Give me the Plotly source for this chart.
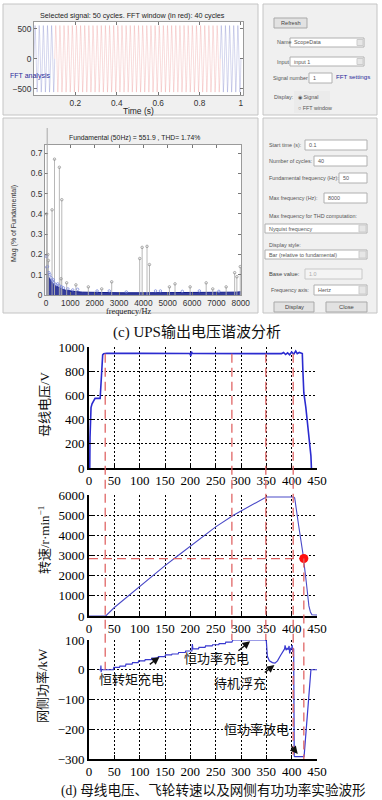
import plotly.graph_objects as go

W, H = 382, 800

# ---------------- DATA ----------------
# (c) upper GUI: selected UPS output voltage signal
sig_cycles = 50
sig_one_cycle = [0, 390, 552, 390, 0, -390, -552, -390]   # one period (V), peak ~552
sig_duration = 1.0
fft_window = [0.1, 0.9]                                   # red part of the signal (s)
sig_x_ticks = [0.2, 0.4, 0.6, 0.8, 1.0]
sig_x_labels = ["0.2", "0.4", "0.6", "0.8", "1"]
sig_y_ticks = [-500, 0, 500]

# (c) FFT spectrum (% of fundamental)
fund_freq = 50
harm_freq = [25, 75, 100, 250, 350, 550, 620, 650, 850, 1230, 1740, 2290, 2700,
             3850, 3950, 4150, 4250, 5070, 5300, 5920, 6580, 6850, 7400, 7750, 7840, 7980]
harm_mag = [0.40, 0.20, 0.17, 0.42, 0.67, 0.63, 0.08, 0.47, 0.06, 0.05, 0.04, 0.03, 0.065,
            0.18, 0.235, 0.24, 0.15, 0.04, 0.055, 0.04, 0.06, 0.03, 0.04, 0.11, 0.09, 0.14]
floor_freq = [0, 50, 100, 150, 200, 300, 400, 500, 600, 700, 800, 1000, 1200, 1500,
              2000, 3000, 4000, 5000, 6000, 7000, 7800, 8000]
floor_mag = [0.14, 0.11, 0.09, 0.08, 0.07, 0.055, 0.045, 0.038, 0.032, 0.028, 0.024, 0.02,
             0.017, 0.014, 0.012, 0.011, 0.011, 0.011, 0.011, 0.011, 0.014, 0.016]
dot_freq = [20, 60, 120, 160, 210, 260, 300, 330, 420, 480, 560, 640, 720, 900, 1100,
            1300, 2100, 2600, 3300, 4500, 4700, 5600, 6300, 7100]
dot_mag = [0.19, 0.14, 0.11, 0.10, 0.085, 0.07, 0.075, 0.06, 0.05, 0.055, 0.045, 0.04,
           0.035, 0.03, 0.025, 0.028, 0.02, 0.02, 0.015, 0.02, 0.02, 0.018, 0.02, 0.018]
fft_y_ticks = [0, 0.1, 0.2, 0.3, 0.4, 0.5, 0.6, 0.7]
fft_x_ticks = [0, 1000, 2000, 3000, 4000, 5000, 6000, 7000, 8000]

# (d) bus voltage (V)
bus_t = [0, 1.5, 2, 3, 4, 6, 9, 12, 22, 23, 25, 27, 29, 35, 100, 199, 201, 202, 204, 206,
         300, 380, 384, 388, 392, 396, 400, 404, 408, 411, 415, 420, 421, 422, 424, 428,
         432, 436, 438, 439]
bus_v = [0, 0, 250, 460, 500, 530, 560, 575, 575, 640, 860, 935, 945, 948, 947, 946, 925,
         962, 946, 946, 946, 945, 955, 938, 952, 936, 958, 940, 966, 945, 955, 946, 946,
         820, 620, 500, 360, 200, 100, 0]

# (d) flywheel speed (r/min)
spd_t = [0, 33, 50, 78, 100, 124, 150, 176, 200, 226, 250, 285, 300, 320, 340, 350,
         404, 406, 414, 422, 429, 434, 437, 440, 450]
spd_v = [0, 0, 420, 1000, 1480, 2000, 2500, 3000, 3460, 4000, 4420, 5000, 5200, 5480,
         5760, 5900, 5900, 5850, 4450, 3130, 1650, 500, 200, 60, 50]

# (d) grid-side active power (kW)
pw_t = [20, 23, 23.5, 24, 24.5, 48, 49, 60, 61, 72, 73, 85, 86, 97, 98, 110, 111, 123, 124,
        136, 137, 150, 151, 163, 164, 176, 177, 190, 191, 203, 204, 205, 206, 216, 217, 229,
        230, 243, 244, 256, 257, 269, 270, 282, 284, 348, 350, 352, 356, 362, 367, 372, 378,
        384, 386, 387, 389, 391, 393, 395, 396, 398, 400, 401, 402, 403, 404, 405, 406,
        423, 424.5, 438, 450]
pw_v = [0, 0, 14, -8, 0, 0, 8, 8, 12, 12, 19, 19, 24, 24, 30, 30, 34, 34, 39, 39, 44, 44,
        50, 50, 53, 53, 58, 58, 63, 63, 86, 70, 70, 70, 75, 75, 80, 80, 84, 84, 88, 88, 93,
        93, 100, 100, 97, 45, 30, 24, 22, 30, 48, 66, 70, 82, 66, 72, 68, 80, 55, 72, 70, 83,
        60, 72, 70, -290, -292, -292, -292, 0, 0]

# event markers (red dashed lines)
event_t = [32, 282, 349, 403, 424]
event_top = [("bus", 945), ("bus", 945), ("bus", 945), ("bus", 945), ("spd", 2850)]
event_bottom = [("pw", 0), ("pw", 100), ("pw", 100), ("pw", -300), ("pw", -300)]
marker_speed = 2850
marker_t = 424

# ---------------- LAYOUT HELPERS ----------------
def px(x):
    return x / W

def py(y):
    return 1 - y / H

dom_sig_x = [px(34), px(243)]
dom_sig_y = [py(95), py(22)]
dom_fft_x = [px(45), px(241)]
dom_fft_y = [py(295), py(145)]
dom_d_x = [px(89), px(317)]
dom_bus_y = [py(468), py(347)]
dom_spd_y = [py(616), py(495)]
dom_pw_y = [py(759), py(640)]
rng_bus = [0, 1000]
rng_spd = [0, 6000]
rng_pw = [-300, 100]
rng_t = [0, 450]
panels = {"bus": (dom_bus_y, rng_bus), "spd": (dom_spd_y, rng_spd), "pw": (dom_pw_y, rng_pw)}

def to_paper_y(panel, v):
    dom, rng = panels[panel]
    return dom[0] + (v - rng[0]) / (rng[1] - rng[0]) * (dom[1] - dom[0])

fig = go.Figure()

# ---------- signal trace ----------
n = len(sig_one_cycle) * sig_cycles
sig_t = [i * sig_duration / n for i in range(n + 1)]
sig_v = sig_one_cycle * sig_cycles + [sig_one_cycle[0]]

def seg(lo, hi):
    xs, ys = [], []
    for t, v in zip(sig_t, sig_v):
        if lo - 1e-9 <= t <= hi + 1e-9:
            xs.append(t); ys.append(v)
    return xs, ys

for lo, hi, col in [(0, fft_window[0], "rgba(70,80,180,0.42)"),
                    (fft_window[0], fft_window[1], "rgba(225,80,80,0.36)"),
                    (fft_window[1], sig_duration, "rgba(70,80,180,0.42)")]:
    xs, ys = seg(lo, hi)
    fig.add_trace(go.Scatter(x=xs, y=ys, mode="lines", line=dict(color=col, width=0.55),
                             xaxis="x", yaxis="y", hoverinfo="skip", showlegend=False))

# ---------- FFT ----------
fig.add_trace(go.Scatter(x=floor_freq, y=floor_mag, mode="lines", fill="tozeroy",
                         line=dict(color="#101a8a", width=1), fillcolor="rgba(16,26,138,0.85)",
                         xaxis="x2", yaxis="y2", showlegend=False, hoverinfo="skip"))
sx, sy = [], []
for f, m in zip(harm_freq, harm_mag):
    sx += [f, f, None]; sy += [0, m, None]
fig.add_trace(go.Scatter(x=sx, y=sy, mode="lines", line=dict(color="#b0b0b0", width=0.9),
                         xaxis="x2", yaxis="y2", showlegend=False, hoverinfo="skip"))
fig.add_trace(go.Scatter(x=harm_freq, y=harm_mag, mode="markers",
                         marker=dict(symbol="circle-open", size=2.5, color="#8a8a8a",
                                     line=dict(width=0.7)),
                         xaxis="x2", yaxis="y2", showlegend=False, hoverinfo="skip"))
fig.add_trace(go.Scatter(x=dot_freq, y=dot_mag, mode="markers",
                         marker=dict(symbol="circle-open", size=2.5, color="#7080d8",
                                     line=dict(width=0.7)),
                         xaxis="x2", yaxis="y2", showlegend=False, hoverinfo="skip"))

# ---------- (d) curves ----------
fig.add_trace(go.Scatter(x=bus_t, y=bus_v, mode="lines", line=dict(color="#2b2bd0", width=1.6),
                         xaxis="x3", yaxis="y3", showlegend=False, hoverinfo="skip"))
fig.add_trace(go.Scatter(x=spd_t, y=spd_v, mode="lines", line=dict(color="#4a4ac8", width=1.1),
                         xaxis="x4", yaxis="y4", showlegend=False, hoverinfo="skip"))
fig.add_trace(go.Scatter(x=[0, marker_t], y=[marker_speed, marker_speed], mode="lines",
                         line=dict(color="#e06666", width=1.3, dash="9px,5px"),
                         xaxis="x4", yaxis="y4", showlegend=False, hoverinfo="skip"))
fig.add_trace(go.Scatter(x=[marker_t], y=[marker_speed], mode="markers",
                         marker=dict(color="#ff1010", size=9), cliponaxis=False,
                         xaxis="x4", yaxis="y4", showlegend=False, hoverinfo="skip"))
fig.add_trace(go.Scatter(x=pw_t, y=pw_v, mode="lines", line=dict(color="#3a3ad0", width=1.2),
                         xaxis="x5", yaxis="y5", showlegend=False, hoverinfo="skip"))

# ---------------- AXES ----------------
gui_font = dict(family="Liberation Sans, Arial", size=8.3, color="#333")
gui_ax = dict(showline=True, linecolor="#9a9a9a", linewidth=1, mirror="ticks", ticks="inside",
              ticklen=3, tickcolor="#777", tickfont=gui_font, showgrid=False, zeroline=False,
              fixedrange=True)
serif = "Liberation Serif, Times New Roman, Noto Sans CJK SC"
d_ax = dict(showline=True, linecolor="#000000", linewidth=1.6, ticks="inside", ticklen=4,
            tickcolor="#000000", showgrid=True, gridcolor="#000000", griddash="1.5px,2.5px",
            gridwidth=1, zeroline=False,
            tickfont=dict(family=serif, size=13, color="#000000"), fixedrange=True)

fig.update_layout(
    template="none",
    xaxis=dict(gui_ax, domain=dom_sig_x, range=[0, 1.01], tickvals=sig_x_ticks,
               ticktext=sig_x_labels, anchor="y"),
    yaxis=dict(gui_ax, domain=dom_sig_y, range=[-600, 610], tickvals=sig_y_ticks, anchor="x"),
    xaxis2=dict(gui_ax, domain=dom_fft_x, range=[-40, 8010], tickvals=fft_x_ticks, anchor="y2"),
    yaxis2=dict(gui_ax, domain=dom_fft_y, range=[0, 0.74], tickvals=fft_y_ticks, anchor="x2"),
    xaxis3=dict(d_ax, domain=dom_d_x, range=rng_t, dtick=50, tick0=0, anchor="y3"),
    yaxis3=dict(d_ax, domain=dom_bus_y, range=rng_bus, dtick=200, tick0=0, anchor="x3"),
    xaxis4=dict(d_ax, domain=dom_d_x, range=rng_t, dtick=50, tick0=0, anchor="y4"),
    yaxis4=dict(d_ax, domain=dom_spd_y, range=rng_spd, dtick=1000, tick0=0, anchor="x4"),
    xaxis5=dict(d_ax, domain=dom_d_x, range=rng_t, dtick=50, tick0=0, anchor="y5"),
    yaxis5=dict(d_ax, domain=dom_pw_y, range=rng_pw, dtick=100, tick0=0, anchor="x5"),
)

# ---------------- SHAPES (GUI) ----------------
shapes = []

def rect(x0, y0, x1, y1, fill, line="#b5b5b5", lw=1, layer="below"):
    shapes.append(dict(type="rect", xref="paper", yref="paper", x0=px(x0), x1=px(x1),
                       y0=py(y1), y1=py(y0), fillcolor=fill, line=dict(color=line, width=lw),
                       layer=layer))

# panels
rect(3, 4, 258, 115, "#f0f0f0", "#c4c4c4")
rect(263, 4, 377, 115, "#f0f0f0", "#c4c4c4")
rect(3, 118, 258, 313, "#f0f0f0", "#c4c4c4")
rect(263, 118, 377, 313, "#f0f0f0", "#c4c4c4")
# white axes areas
rect(34, 22, 243, 95, "white", "rgba(0,0,0,0)")
rect(45, 145, 241, 295, "white", "rgba(0,0,0,0)")

# top-right widgets
rect(274, 18, 307, 28, "#e2e2e2", "#a9a9a9")
rect(290, 38, 364, 47, "white", "#b0b0b0")
rect(357, 39.5, 363, 45.5, "#e6e6e6", "#cccccc")
rect(290, 57, 364, 66, "white", "#b0b0b0")
rect(357, 58.5, 363, 64.5, "#e6e6e6", "#cccccc")
rect(309, 73, 332, 83, "white", "#b0b0b0")
rect(294, 91, 330, 113, "#ebebeb", "rgba(0,0,0,0)")

# bottom-right widgets
rect(305, 140, 367, 150, "white", "#b0b0b0")
rect(314, 156, 367, 166, "white", "#b0b0b0")
rect(339, 173, 367, 183, "white", "#b0b0b0")
rect(324, 193, 367, 203, "white", "#b0b0b0")
rect(265, 224, 367, 233, "white", "#b0b0b0")
rect(359, 225, 366, 232, "#e6e6e6", "#cccccc")
rect(265, 250, 367, 259, "white", "#b0b0b0")
rect(359, 251, 366, 258, "#e6e6e6", "#cccccc")
rect(305, 269, 362, 279, "#f4f4f4", "#c8c8c8")
rect(314, 285, 367, 295, "white", "#b0b0b0")
rect(359, 286, 366, 294, "#e6e6e6", "#cccccc")
rect(274, 302, 314, 312, "#e2e2e2", "#a9a9a9")
rect(326, 302, 367, 312, "#e2e2e2", "#a9a9a9")

# fundamental bar (runs beyond the top of the FFT axes)
shapes.append(dict(type="line", xref="x2", yref="paper", x0=fund_freq, x1=fund_freq,
                   y0=dom_fft_y[0], y1=py(128), line=dict(color="#a8a8a8", width=1), layer="above"))

# red dashed event lines spanning the three (d) panels
for t, (p0, v0), (p1, v1) in zip(event_t, event_top, event_bottom):
    shapes.append(dict(type="line", xref="x3", yref="paper", x0=t, x1=t,
                       y0=to_paper_y(p0, v0), y1=to_paper_y(p1, v1),
                       line=dict(color="#e06666", width=1.3, dash="9px,5px"), layer="above"))

fig.update_layout(shapes=shapes)

# ---------------- ANNOTATIONS ----------------
ann = []

def txt(x, y, s, size=5.4, color="#555", anchor="left", family="Liberation Sans, Arial",
        angle=0):
    ann.append(dict(xref="paper", yref="paper", x=px(x), y=py(y), text=s, showarrow=False,
                    xanchor=anchor, yanchor="middle", textangle=angle,
                    font=dict(family=family, size=size, color=color)))

txt(132, 15, "Selected signal: 50 cycles. FFT window (in red): 40 cycles", 7.2, "#222", "center")
txt(138, 111, "Time (s)", 8.5, "#222", "center")
txt(8, 76, "FFT analysis", 7, "#2a2a9a")
txt(134, 138, "Fundamental (50Hz) = 551.9 , THD= 1.74%", 6.8, "#222", "center")
txt(128, 311.5, "frequency/Hz", 8.3, "#222", "center", serif)
txt(14, 224, "Mag (% of Fundamental)", 7, "#333", "center", angle=-90)

# top-right GUI
txt(290.5, 23, "Refresh", 5.6, "#444", "center")
txt(275, 42.5, "Name")
txt(292, 42.5, "ScopeData")
txt(275, 61.5, "Input")
txt(292, 61.5, "input 1")
txt(271, 78, "Signal number")
txt(311, 78, "1")
txt(334, 77, "FFT settings", 6.2, "#2a2a9a")
txt(272, 97, "Display:")
txt(296, 97, "◉ Signal")
txt(296, 108, "○ FFT window")

# bottom-right GUI
txt(267, 145, "Start time (s):")
txt(307, 145, "0.1")
txt(267, 161, "Number of cycles:")
txt(316, 161, "40")
txt(267, 178, "Fundamental frequency (Hz):")
txt(341, 178, "50")
txt(267, 198, "Max frequency (Hz):")
txt(326, 198, "8000")
txt(267, 216, "Max frequency for THD computation:")
txt(267, 228.5, "Nyquist frequency")
txt(267, 245, "Display style:")
txt(267, 254.5, "Bar (relative to fundamental)")
txt(267, 274, "Base value:", 5.8, "#444")
txt(307, 274, "1.0", 5.4, "#aaa")
txt(269, 290, "Frequency axis:")
txt(316, 290, "Hertz")
txt(294, 307, "Display", 5.8, "#444", "center")
txt(346.5, 307, "Close", 5.8, "#444", "center")

# captions
txt(197, 332, "(c) UPS输出电压谐波分析", 15, "#111", "center", serif)
txt(213, 790, "(d) 母线电压、飞轮转速以及网侧有功功率实验波形", 13.6, "#111", "center", serif)

# (d) y titles
txt(44, 404, "母线电压/V", 13, "#111", "center", serif, -90)
txt(44, 540, "转速/r·min<sup>−1</sup>", 13, "#111", "center", serif, -90)
txt(42, 686, "网侧功率/kW", 13, "#111", "center", serif, -90)

# (d) power annotations
def note(x, y, s):
    ann.append(dict(xref="x5", yref="y5", x=x, y=y, text=s, showarrow=False,
                    font=dict(family=serif, size=13, color="#111"), xanchor="center",
                    yanchor="middle"))

def arrow(x, y, ax, ay):
    ann.append(dict(xref="x5", yref="y5", axref="x5", ayref="y5", x=x, y=y, ax=ax, ay=ay,
                    text="", showarrow=True, arrowhead=2, arrowsize=1.1, arrowwidth=1.4,
                    arrowcolor="#111"))

note(84, -32, "恒转矩充电")
arrow(139, 43, 117, 14)
note(252, 37, "恒功率充电")
arrow(318, 96, 292, 60)
note(298, -47, "待机浮充")
arrow(366, 16, 344, -13)
note(331, -202, "恒功率放电")
arrow(412, -283, 397, -252)

fig.update_layout(annotations=ann, width=W, height=H, autosize=False,
                  margin=dict(l=0, r=0, t=0, b=0), paper_bgcolor="white",
                  plot_bgcolor="rgba(0,0,0,0)", showlegend=False,
                  font=dict(family="Liberation Sans, Arial"))

fig.write_html("out.html", config={"displayModeBar": False},
               post_script="document.body.style.margin='0';document.body.style.overflow='hidden';")
